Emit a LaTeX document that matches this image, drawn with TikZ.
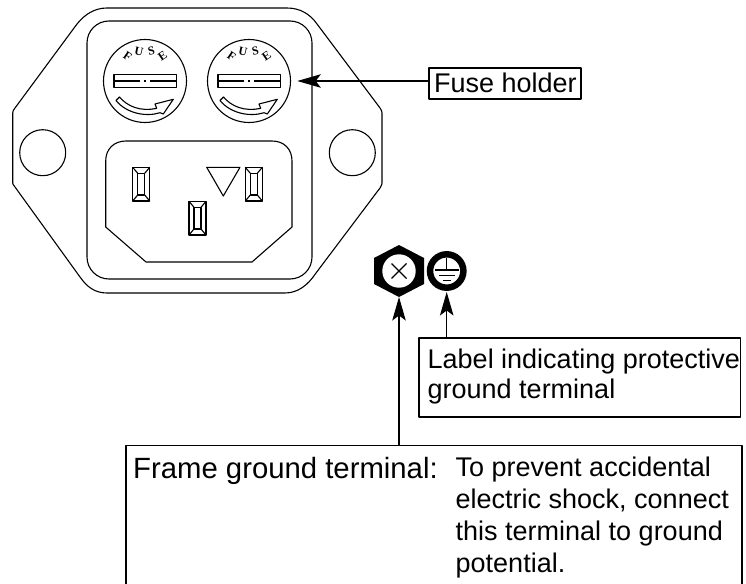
\documentclass[tikz,border=0pt]{standalone}
\usepackage{fontspec}
\setmainfont{Liberation Sans}
\newfontfamily\fusefont{Liberation Serif}
\usetikzlibrary{arrows.meta}

\tikzset{
  main/.style = {line width=1.1pt, line join=round},
  lbl/.style = {inner sep=0pt, anchor=base west, align=left, font=\fontsize{27}{31.7}\selectfont},
  tip/.style = {-{Stealth[length=23.5pt, width=13.5pt, inset=5pt]}, line width=1.1pt},
  fuseletter/.style = {inner sep=0pt, font=\fontsize{12}{12}\fusefont\bfseries},
}

\begin{document}
\begin{tikzpicture}[x=1pt, y=-1pt]

\useasboundingbox (0,0) rectangle (746,583);
\clip (0,0) rectangle (746,583);

%% plate
\draw[main] (107,8) -- (287,8) .. controls (300,8) and (310,14) .. (317,24)
  -- (380,108) .. controls (381.3,110) and (382,111) .. (382,113) -- (382,183)
  .. controls (382,184) and (381.5,186) .. (380,188)
  -- (316,273) .. controls (308,285) and (298,293) .. (285,293) -- (107,293)
  .. controls (95,293) and (87,287) .. (80,277)
  -- (15,187) .. controls (13.5,185) and (12.7,184) .. (12.7,183) -- (12.7,113)
  .. controls (12.7,111) and (13.5,110) .. (15,108)
  -- (77,24) .. controls (85,14) and (95,8) .. (107,8) -- cycle;
\draw[main, rounded corners=22pt] (87,21) rectangle (312,279);

%% mounting holes
\draw[main] (42.7,152.7) circle (23);
\draw[main] (352.3,152.7) circle (23);

%% fuses
\foreach \fx in {145,249} {
  \begin{scope}[shift={(\fx,81)}]
    \draw[main] (0,0) circle (41.5);
    \draw[main] (-31,-6.5) rectangle (31.5,6.5);
    \draw[main] (-31,0) -- (-5,0);
    \draw[main] (-1,0) -- (1,0);
    \draw[main] (5,0) -- (31.5,0);
    \node (f\fx) [fuseletter, rotate=-34] at (-17.5,-25) {F};
    \node (u\fx) [fuseletter, rotate=-12] at (-6.2,-29.8) {U};
    \node (s\fx) [fuseletter, rotate=12] at (6.2,-29.8) {S};
    \node (e\fx) [fuseletter, rotate=34] at (17.5,-25) {E};
    \draw[main] (-25.5,16) .. controls (-18,25) and (-5,31) .. (11.7,27.3)
      -- (10,23) -- (28.3,18.3) -- (18.3,33) -- (15,31.7)
      .. controls (2,36) and (-18,33) .. (-29,19.5) -- cycle;
  \end{scope}
}

%% socket
\draw[main] (105.7,161) .. controls (105.7,149) and (114,141) .. (126,141) -- (272,141)
  .. controls (284,141) and (292,149) .. (292,161) -- (292,227) -- (252,262) -- (146,262)
  -- (105.7,227) -- cycle;
\foreach \px/\py in {132.7/167.3, 245.3/167.3, 189/201.3} {
  \begin{scope}[shift={(\px,\py)}]
    \draw[main] (0,0) rectangle (17,33.7);
    \draw[main] (5,6) rectangle (12,27.7);
    \draw[main] (0,0) -- (5,6);
    \draw[main] (17,0) -- (12,6);
    \draw[main] (0,33.7) -- (5,27.7);
    \draw[main] (17,33.7) -- (12,27.7);
  \end{scope}
}
\draw[main] (206.7,167.3) -- (240,167.3) -- (223.3,196) -- cycle;

%% terminal symbols
\fill (399,245) -- (424,258) -- (424,284) -- (399,297) -- (374,284) -- (374,258) -- cycle;
\draw[fill=white, draw=none] (399,271) circle (16.7);
\draw[main] (391.5,263.5) -- (406.5,278.5);
\draw[main] (391.5,278.5) -- (406.5,263.5);
\draw[line width=6.5pt] (446.7,271) circle (16.7);
\draw[main] (446.7,258) -- (446.7,270);
\draw[main] (435,270) -- (459,270);
\draw[main] (439,275.5) -- (454.5,275.5);
\draw[main] (443,280.5) -- (450.5,280.5);
\coordinate (nut) at (399,297);
\coordinate (earth) at (446.7,292);
\coordinate (fuse) at (297.3,81);

%% label boxes
\coordinate (framecorner) at (126,445.5);
\draw[main] (126,600) -- (framecorner) -- (742,445.5) -- (742,600);
\draw[main] (419,338) rectangle (740.5,417);
\draw[main] (429,68) rectangle (581,99);
\coordinate (frametop) at (399,445.5);
\coordinate (earthtop) at (446.7,338);
\coordinate (holderleft) at (429,81);

\node (holder) [lbl] at (434,93) {Fuse holder};
\node (earthlbl) [lbl, font=\fontsize{27}{30}\selectfont] at (427.5,398) {Label indicating protective\\ground terminal};
\node (framelbl) [lbl, font=\fontsize{29.3}{32}\selectfont] at (133,478) {Frame ground terminal:};
\node (framenote) [lbl] at (455.5,572) {To prevent accidental\\electric shock, connect\\this terminal to ground\\potential.};

%% leaders
\draw[tip] (holderleft) -- (fuse);
\draw[tip] (earthtop) -- (earth);
\draw[tip] (frametop) -- (nut);

\end{tikzpicture}
\end{document}
